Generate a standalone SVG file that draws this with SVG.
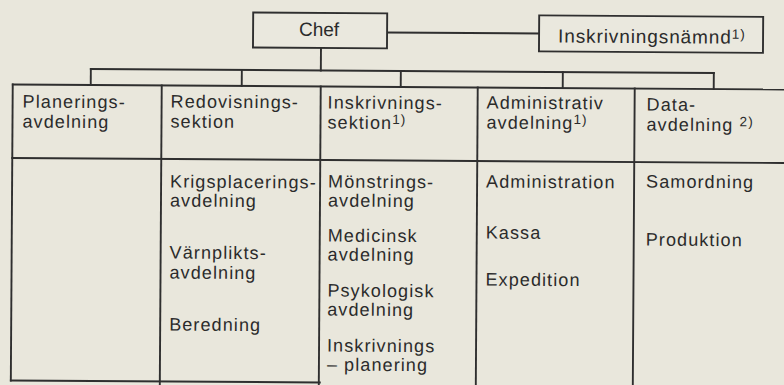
<svg xmlns="http://www.w3.org/2000/svg" width="784" height="385" viewBox="0 0 784 385">
<style>
.bg{fill:#e9e7dc}
.ln{stroke:#2f2f2f;stroke-width:1.9;fill:none;stroke-linecap:square}
.box{fill:#eae8de;stroke:#2f2f2f;stroke-width:1.9}
.t{font-family:"Liberation Sans",Arial,sans-serif;font-size:18px;letter-spacing:1.1px;fill:#2b2b2b}
.h{font-family:"Liberation Sans",Arial,sans-serif;font-size:19px;fill:#2b2b2b}
.sup{font-size:13.5px}
</style>
<rect class="bg" x="0" y="0" width="784" height="385"/>
<g transform="rotate(0.37 400 200)">
<g id="connectors">
<line class="ln" x1="386" y1="32.6" x2="538" y2="32.6"/>
<line class="ln" x1="320" y1="48.5" x2="320" y2="71"/>
<line class="ln" x1="90" y1="71" x2="713" y2="71"/>
<line class="ln" x1="90" y1="71" x2="90" y2="87"/>
<line class="ln" x1="241" y1="71" x2="241" y2="87"/>
<line class="ln" x1="400" y1="71" x2="400" y2="87"/>
<line class="ln" x1="562" y1="71" x2="562" y2="87"/>
<line class="ln" x1="713" y1="71" x2="713" y2="87"/>
</g>
<g id="chef">
<rect class="box" x="252" y="13.5" width="134" height="35"/>
<text class="h" x="318" y="36.5" text-anchor="middle">Chef</text>
</g>
<g id="inskrivningsnamnd">
<rect class="box" x="538" y="14.5" width="224" height="36"/>
<text class="h" x="557" y="41.5" letter-spacing="0.9">Inskrivningsnämnd<tspan class="sup" dy="-5" font-size="15">1)</tspan></text>
</g>
<g id="table">
<line class="ln" x1="12" y1="87" x2="800" y2="87"/>
<line class="ln" x1="12" y1="160.5" x2="800" y2="160.5"/>
<line class="ln" x1="12" y1="87" x2="12" y2="383"/>
<line class="ln" x1="12" y1="383" x2="321" y2="383"/>
<line class="ln" x1="161" y1="87" x2="161" y2="400"/>
<line class="ln" x1="320" y1="87" x2="320" y2="400"/>
<line class="ln" x1="477" y1="87" x2="477" y2="400"/>
<line class="ln" x1="634" y1="87" x2="634" y2="400"/>
</g>
<g id="planeringsavdelning">
<text class="t" x="22" y="110">Planerings-</text>
<text class="t" x="22" y="130">avdelning</text>
</g>
<g id="redovisningssektion">
<text class="t" x="170" y="109">Redovisnings-</text>
<text class="t" x="170" y="129">sektion</text>
<text class="t" x="170" y="189">Krigsplacerings-</text>
<text class="t" x="170" y="208">avdelning</text>
<text class="t" x="170" y="260">Värnplikts-</text>
<text class="t" x="170" y="280">avdelning</text>
<text class="t" x="170" y="332">Beredning</text>
</g>
<g id="inskrivningssektion">
<text class="t" x="327" y="109">Inskrivnings-</text>
<text class="t" x="327" y="129">sektion<tspan class="sup" dy="-5">1)</tspan></text>
<text class="t" x="328" y="188">Mönstrings-</text>
<text class="t" x="328" y="207">avdelning</text>
<text class="t" x="328" y="242">Medicinsk</text>
<text class="t" x="328" y="261">avdelning</text>
<text class="t" x="328" y="297">Psykologisk</text>
<text class="t" x="328" y="316">avdelning</text>
<text class="t" x="328" y="352">Inskrivnings</text>
<text class="t" x="328" y="371">– planering</text>
</g>
<g id="administrativ-avdelning">
<text class="t" x="486" y="108">Administrativ</text>
<text class="t" x="486" y="128">avdelning<tspan class="sup" dy="-5">1)</tspan></text>
<text class="t" x="486" y="187">Administration</text>
<text class="t" x="486" y="238">Kassa</text>
<text class="t" x="486" y="285">Expedition</text>
</g>
<g id="dataavdelning">
<text class="t" x="646" y="109">Data-</text>
<text class="t" x="646" y="129">avdelning <tspan class="sup" dy="-5">2)</tspan></text>
<text class="t" x="646" y="186">Samordning</text>
<text class="t" x="646" y="244">Produktion</text>
</g>
</g>
</svg>
